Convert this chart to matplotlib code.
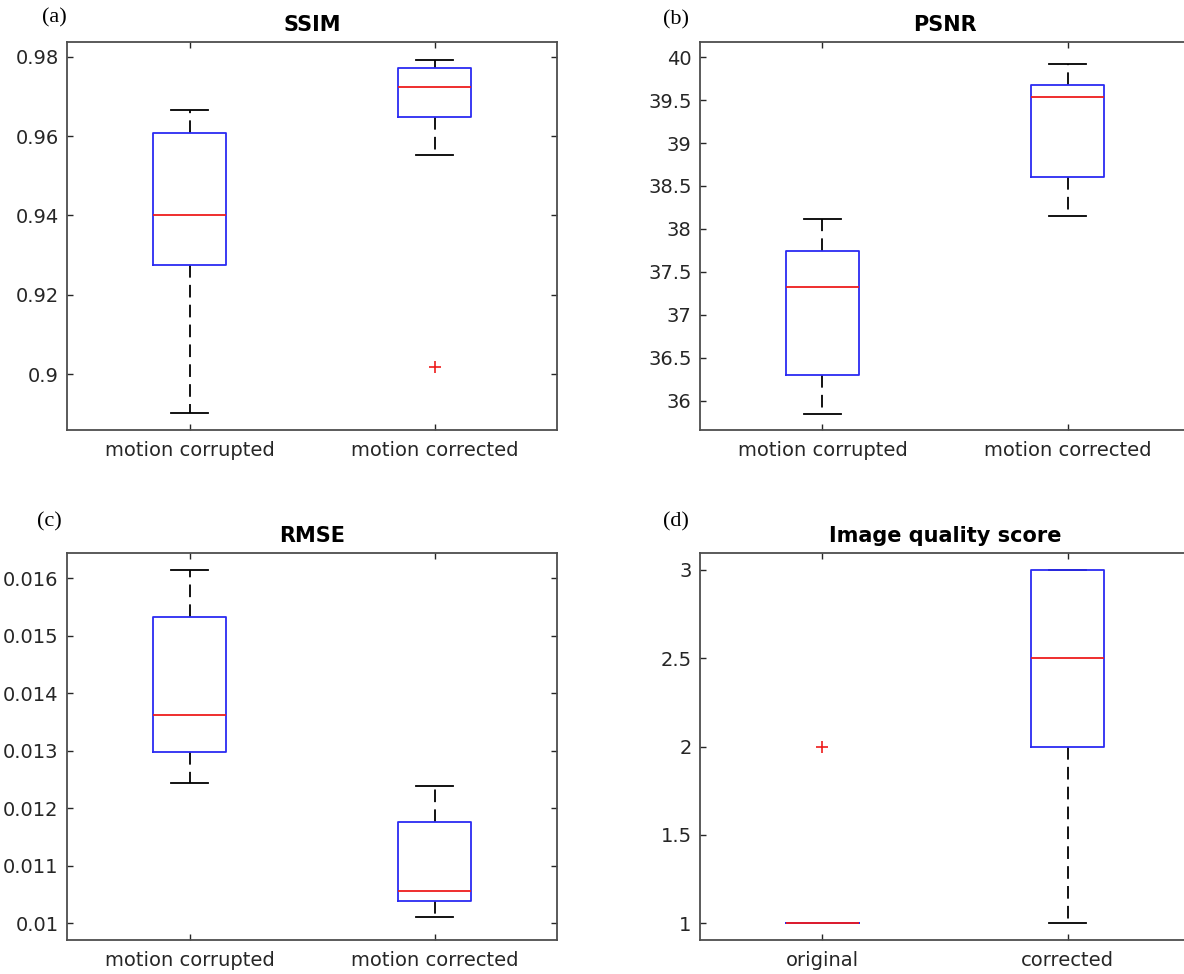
import matplotlib
matplotlib.use('Agg')
import matplotlib.pyplot as plt

# Datos (cuartiles, medianas, bigotes y atípicos)
etiquetas_movimiento = ['motion corrupted', 'motion corrected']
etiquetas_calidad = ['original', 'corrected']

ssim_whislo = [0.8901, 0.9552]
ssim_q1 = [0.9275, 0.9649]
ssim_med = [0.9400, 0.9723]
ssim_q3 = [0.9607, 0.9772]
ssim_whishi = [0.9666, 0.9792]
ssim_fliers = [[], [0.9018]]

psnr_whislo = [35.85, 38.15]
psnr_q1 = [36.30, 38.61]
psnr_med = [37.32, 39.54]
psnr_q3 = [37.74, 39.67]
psnr_whishi = [38.11, 39.92]
psnr_fliers = [[], []]

rmse_whislo = [0.012435, 0.01011]
rmse_q1 = [0.012985, 0.010394]
rmse_med = [0.013623, 0.010557]
rmse_q3 = [0.015332, 0.011757]
rmse_whishi = [0.016144, 0.012388]
rmse_fliers = [[], []]

score_whislo = [1, 1]
score_q1 = [1, 2]
score_med = [1, 2.5]
score_q3 = [1, 3]
score_whishi = [1, 3]
score_fliers = [[2], []]

# Marcas del eje y (formato estilo MATLAB)
ssim_ticks = [0.9, 0.92, 0.94, 0.96, 0.98]
ssim_ticklabels = ['0.9', '0.92', '0.94', '0.96', '0.98']
psnr_ticks = [36, 36.5, 37, 37.5, 38, 38.5, 39, 39.5, 40]
psnr_ticklabels = ['36', '36.5', '37', '37.5', '38', '38.5', '39', '39.5', '40']
rmse_ticks = [0.010, 0.011, 0.012, 0.013, 0.014, 0.015, 0.016]
rmse_ticklabels = ['0.01', '0.011', '0.012', '0.013', '0.014', '0.015', '0.016']
score_ticks = [1, 1.5, 2, 2.5, 3]
score_ticklabels = ['1', '1.5', '2', '2.5', '3']

GRIS = '#262626'
AZUL = '#2b2bf2'
ROJO = '#ee1c1c'


# Función para construir las estadísticas que usa bxp
def construir_stats(whislo, q1, med, q3, whishi, fliers):
    stats = []
    for i in range(len(med)):
        stats.append({'whislo': whislo[i], 'q1': q1[i], 'med': med[i],
                      'q3': q3[i], 'whishi': whishi[i], 'fliers': fliers[i]})
    return stats


# Función para dibujar un panel de cajas al estilo MATLAB
def dibujar_panel(ax, stats, etiquetas, titulo, ticks, ticklabels, ylim):
    ax.bxp(stats, positions=[1, 2], widths=0.3, capwidths=0.15,
           showfliers=True,
           boxprops=dict(color=AZUL, linewidth=1.3, zorder=2.2),
           medianprops=dict(color=ROJO, linewidth=1.3, zorder=2.4),
           whiskerprops=dict(color='black', linewidth=1.3, linestyle=(0, (7, 4)), zorder=1.8),
           capprops=dict(color='black', linewidth=1.3, zorder=1.9),
           flierprops=dict(marker='+', markeredgecolor=ROJO, markersize=9,
                           markeredgewidth=1.2, linestyle='none'))
    ax.set_xlim(0.5, 2.5)
    ax.set_ylim(*ylim)
    ax.set_xticks([1, 2])
    ax.set_xticklabels(etiquetas)
    ax.set_yticks(ticks)
    ax.set_yticklabels(ticklabels)
    ax.tick_params(direction='in', length=4, width=1, colors=GRIS,
                   top=True, right=True, labelsize=14)
    ax.tick_params(axis='x', pad=8)
    ax.tick_params(axis='y', pad=6)
    for s in ax.spines.values():
        s.set_color('#4d4d4d')
        s.set_linewidth(1.3)
    ax.set_title(titulo, fontsize=15, fontweight='bold', pad=8)


fig = plt.figure(figsize=(11.84, 9.74), dpi=100)

ax_a = fig.add_axes([0.0566, 0.5585, 0.4139, 0.3979])
ax_b = fig.add_axes([0.5912, 0.5585, 0.4139, 0.3979])
ax_c = fig.add_axes([0.0566, 0.0349, 0.4139, 0.3973])
ax_d = fig.add_axes([0.5912, 0.0349, 0.4139, 0.3973])

dibujar_panel(ax_a, construir_stats(ssim_whislo, ssim_q1, ssim_med, ssim_q3, ssim_whishi, ssim_fliers),
              etiquetas_movimiento, 'SSIM', ssim_ticks, ssim_ticklabels, (0.8859, 0.9836))
dibujar_panel(ax_b, construir_stats(psnr_whislo, psnr_q1, psnr_med, psnr_q3, psnr_whishi, psnr_fliers),
              etiquetas_movimiento, 'PSNR', psnr_ticks, psnr_ticklabels, (35.66, 40.17))
dibujar_panel(ax_c, construir_stats(rmse_whislo, rmse_q1, rmse_med, rmse_q3, rmse_whishi, rmse_fliers),
              etiquetas_movimiento, 'RMSE', rmse_ticks, rmse_ticklabels, (0.00971, 0.01644))
dibujar_panel(ax_d, construir_stats(score_whislo, score_q1, score_med, score_q3, score_whishi, score_fliers),
              etiquetas_calidad, 'Image quality score', score_ticks, score_ticklabels, (0.9055, 3.096))

# Letras de los paneles
fuente_serif = ['Liberation Serif', 'DejaVu Serif']
fig.text(42 / 1184, 1 - 18 / 974, '(a)', fontsize=16, family=fuente_serif, va='center', ha='left')
fig.text(663 / 1184, 1 - 20 / 974, '(b)', fontsize=16, family=fuente_serif, va='center', ha='left')
fig.text(37 / 1184, 1 - 522 / 974, '(c)', fontsize=16, family=fuente_serif, va='center', ha='left')
fig.text(663 / 1184, 1 - 522 / 974, '(d)', fontsize=16, family=fuente_serif, va='center', ha='left')

fig.savefig('out.png', dpi=100)
